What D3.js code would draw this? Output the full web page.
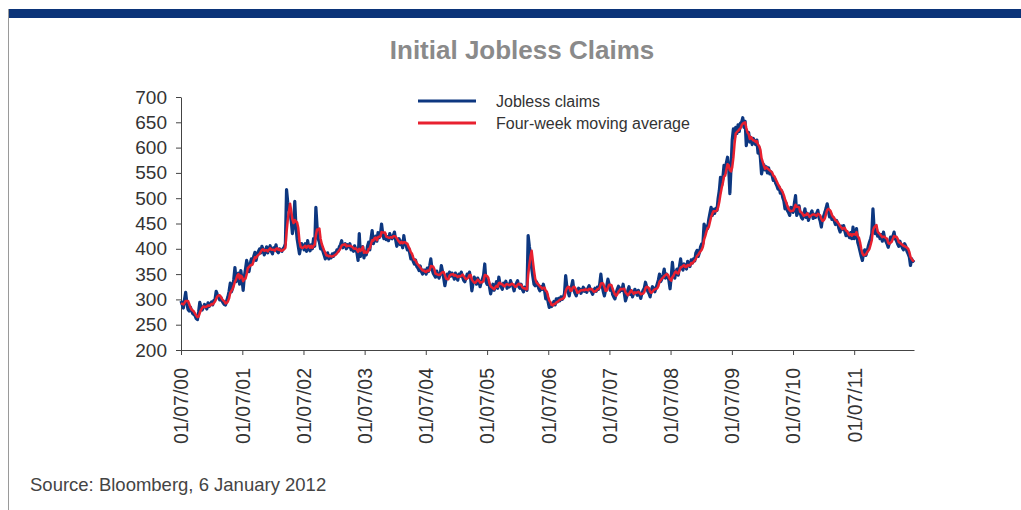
<!DOCTYPE html>
<html>
<head>
<meta charset="utf-8">
<script src="https://cdn.jsdelivr.net/npm/d3@7"></script>
<style>
  html, body { margin: 0; padding: 0; background: #fff; }
  svg { display: block; font-family: "Liberation Sans", Arial, sans-serif; }
</style>
</head>
<body>
<svg id="chart" width="1021" height="510"></svg>
<script>
// ---------- DATA (thousands, weekly, first week 01/07/00) ----------
const chartTitle = "Initial Jobless Claims";
const sourceText = "Source: Bloomberg, 6 January 2012";
const seriesNames = ["Jobless claims", "Four-week moving average"];
const firstWeek = "2000-01-07";
const yTicks = [200, 250, 300, 350, 400, 450, 500, 550, 600, 650, 700];
const xTickLabels = ["01/07/00","01/07/01","01/07/02","01/07/03","01/07/04","01/07/05","01/07/06","01/07/07","01/07/08","01/07/09","01/07/10","01/07/11"];

const claims2000 = [297,290,283,300,314,292,280,277,285,278,272,270,268,262,260,275,294,285,279,284,290,288,281,293,286,291,295,289,298,300,316,310,305,299,304,297,293,290,289,298,305,316,332,315,322,340,363,335,348,352,330,357];
const claims2001 = [340,318,345,360,377,365,355,370,380,372,385,393,377,388,395,400,392,405,398,388,396,404,392,400,406,395,390,402,398,408,395,392,400,397,395,400,403,410,517,492,478,470,455,430,448,494,445,420,405,390,402,410];
const claims2002 = [404,398,410,395,416,402,396,408,400,420,405,482,445,420,413,400,405,395,388,380,386,392,380,386,382,390,385,392,390,398,395,404,408,416,402,406,410,400,408,404,410,398,402,395,406,400,392,377,430,385,398,404];
const claims2003 = [382,395,388,405,413,398,420,436,410,418,425,415,432,422,428,449,430,420,429,418,424,416,430,422,420,426,433,418,405,412,420,408,415,402,426,410,406,398,402,392,380,386,375,370,378,365,362,357,366,355,350,358];
const claims2004 = [358,350,362,355,366,380,360,352,348,344,356,348,342,350,367,355,342,327,340,350,344,354,346,352,348,340,352,344,338,350,346,354,345,338,335,342,350,346,354,340,317,332,344,338,330,342,336,325,334,340,348,370,335];
const claims2005 = [330,338,325,311,322,330,318,326,335,322,344,330,325,320,332,328,336,322,330,325,337,330,326,317,328,332,337,325,322,330,320,315,324,322,318,426,405,390,362,345,330,327,335,330,322,317,325,320,330,318,301,310];
const claims2006 = [295,284,290,286,291,296,289,301,295,302,297,305,300,304,312,347,325,315,307,320,326,337,318,312,307,316,322,320,312,318,324,316,320,314,322,327,318,315,310,318,322,316,324,320,330,350,328,316,307,318,326,340];
const claims2007 = [330,318,325,310,305,301,312,320,326,315,322,318,330,312,297,305,318,325,310,317,305,312,320,315,308,318,310,302,312,318,322,334,325,316,312,305,318,325,322,315,322,330,338,350,335,340,348,360,342,350,345,338];
const claims2008 = [321,345,373,350,342,355,360,348,365,380,362,358,370,366,360,375,368,365,378,372,380,376,392,397,385,392,404,410,410,449,430,445,440,458,470,482,466,478,470,480,476,500,515,541,525,540,565,550,570,581,560,509];
const claims2009 = [560,615,637,620,640,628,645,632,648,650,659,640,652,604,623,630,611,620,606,618,612,606,615,589,600,580,548,560,566,556,562,550,560,548,552,545,535,540,530,525,518,522,510,515,502,495,479,490,476,472,466,482];
const claims2010 = [480,472,490,505,466,472,485,470,462,459,468,479,462,470,456,465,470,475,460,468,462,470,476,462,455,443,460,465,472,480,489,475,463,470,458,462,455,448,456,450,440,433,445,438,446,435,426,432,428,422,432,420,443];
const claims2011 = [420,428,440,413,405,395,385,377,392,398,387,395,405,413,420,430,479,440,430,439,425,430,420,428,415,433,420,415,410,403,412,423,418,425,433,420,416,410,405,415,408,402,398,410,405,395,390,384,367,380,375,378];

const avg2000 = [292,291,290,293,297,297,297,291,284,280,278,276,272,268,265,266,273,279,283,286,285,285,286,288,287,288,291,290,293,296,301,306,308,308,305,301,298,296,292,293,296,302,313,317,321,327,335,340,347,350,341,347];
const avg2001 = [345,336,340,341,350,362,364,367,368,369,377,383,382,386,388,390,394,398,399,396,397,397,395,398,401,398,398,398,396,400,401,398,399,396,396,398,399,402,433,456,474,489,474,458,451,457,454,452,441,415,404,402];
const avg2002 = [402,404,406,402,405,406,402,406,402,406,408,427,438,438,440,420,410,403,397,392,387,387,385,386,385,385,386,387,389,391,394,397,401,406,408,408,409,405,406,406,406,405,404,401,400,401,398,394,400,396,398,404];
const avg2003 = [392,395,392,393,400,401,409,417,416,421,422,417,423,424,424,433,432,432,432,424,423,422,422,423,422,425,425,424,421,417,414,411,414,411,413,413,411,410,404,400,393,390,383,378,377,372,369,366,363,360,357,357];
const avg2004 = [355,354,357,356,358,366,365,365,360,351,350,349,348,349,352,354,354,348,341,340,340,347,349,349,350,347,348,346,344,346,345,347,349,346,343,340,341,343,348,348,339,336,333,333,336,339,337,333,334,334,337,348,348];
const avg2005 = [346,343,332,326,324,322,320,324,327,325,332,333,330,330,327,326,329,330,329,328,329,331,330,328,325,326,329,331,329,329,324,322,322,320,320,348,368,385,396,376,357,341,334,331,329,326,324,321,323,323,317,315];
const avg2006 = [306,298,295,289,288,291,291,294,295,297,299,300,301,302,305,316,322,325,324,317,317,323,325,323,319,313,314,316,318,318,319,318,320,319,318,321,320,321,318,315,316,317,320,321,323,331,332,331,325,317,317,323];
const avg2007 = [329,329,328,321,315,310,307,310,315,318,321,320,321,321,314,311,308,311,315,318,314,311,314,313,314,315,313,310,311,311,314,322,325,324,322,315,313,315,318,320,321,322,326,335,338,341,343,346,348,350,349,344];
const avg2008 = [339,337,344,347,353,355,352,351,357,363,364,366,368,364,364,368,367,367,372,371,374,377,380,386,388,392,395,398,404,418,425,434,441,443,453,463,469,474,474,474,476,482,493,508,520,530,543,545,556,567,565,555];
const avg2009 = [553,561,580,608,628,631,633,636,638,644,647,649,650,639,630,627,617,621,617,614,614,611,613,606,603,596,579,572,564,558,561,559,557,555,553,551,545,543,538,533,528,524,519,516,512,506,498,492,485,479,476,474];
const avg2010 = [475,475,481,487,483,483,482,473,472,469,465,467,467,470,467,463,465,467,468,468,466,465,469,468,466,459,455,456,460,469,477,479,477,474,467,463,461,456,455,452,449,445,442,439,441,441,436,435,430,427,429,426,429];
const avg2011 = [429,428,433,425,422,413,400,391,387,388,389,393,396,400,408,417,436,442,445,447,434,431,429,426,423,424,424,421,420,412,410,412,414,420,425,424,424,420,413,412,410,408,406,405,404,402,400,394,384,380,377,375];

const claims = [].concat(claims2000, claims2001, claims2002, claims2003, claims2004, claims2005,
                         claims2006, claims2007, claims2008, claims2009, claims2010, claims2011);
const movingAvg = [].concat(avg2000, avg2001, avg2002, avg2003, avg2004, avg2005,
                            avg2006, avg2007, avg2008, avg2009, avg2010, avg2011);

// ---------- CHART ----------
const parse = d3.timeParse("%Y-%m-%d");
const fmt = d3.timeFormat("%m/%d/%y");
const t0 = parse(firstWeek);
const weeks = claims.map((_, i) => d3.timeDay.offset(t0, 7 * i));
const xTickDates = xTickLabels.map(s => d3.timeParse("%m/%d/%y")(s));

const svg = d3.select("#chart");
const W = 1021, H = 510;
const BLUE = "#0d3780", RED = "#e8202f";

// frame decorations
svg.append("rect").attr("x", 8).attr("y", 9).attr("width", W - 8).attr("height", 9).attr("fill", "#0b3479");
svg.append("line").attr("x1", 8.5).attr("x2", 8.5).attr("y1", 9).attr("y2", H)
   .attr("stroke", "#9a9a9a").attr("stroke-width", 1);

const x = d3.scaleTime().domain([t0, weeks[weeks.length - 1]]).range([181, 914]);
const y = d3.scaleLinear().domain([200, 700]).range([350, 97]);

// title
svg.append("text").attr("x", 522).attr("y", 59).attr("text-anchor", "middle")
   .attr("font-size", 26).attr("font-weight", "bold").attr("fill", "#8a8a8a").text(chartTitle);

// y axis
const yAxis = svg.append("g").attr("transform", "translate(181,0)")
  .call(d3.axisLeft(y).tickValues(yTicks).tickSize(5).tickSizeOuter(0).tickPadding(9));
yAxis.selectAll("text").attr("font-size", 19).attr("fill", "#333").attr("font-family", "Liberation Sans, Arial, sans-serif");
yAxis.selectAll("path, line").attr("stroke", "#444");

// x axis
const xAxis = svg.append("g").attr("transform", "translate(0,350)")
  .call(d3.axisBottom(x).tickValues(xTickDates).tickFormat(fmt).tickSize(5).tickSizeOuter(0));
xAxis.selectAll("path, line").attr("stroke", "#444");
xAxis.selectAll("text")
  .attr("font-size", 19.5).attr("fill", "#333").attr("font-family", "Liberation Sans, Arial, sans-serif")
  .attr("transform", "rotate(-90)").attr("text-anchor", "end")
  .attr("x", -18).attr("y", 0).attr("dy", "0.35em");

// lines
const line = d3.line().x((d, i) => x(weeks[i])).y(d => y(d));
svg.append("path").datum(claims).attr("d", line).attr("fill", "none")
   .attr("stroke", BLUE).attr("stroke-width", 3.2).attr("stroke-linejoin", "round");
svg.append("path").datum(movingAvg).attr("d", line).attr("fill", "none")
   .attr("stroke", RED).attr("stroke-width", 2.5).attr("stroke-linejoin", "round");

// legend
const legend = svg.append("g");
[[BLUE, 101, seriesNames[0]], [RED, 123, seriesNames[1]]].forEach(([c, ly, name]) => {
  legend.append("line").attr("x1", 418).attr("x2", 476).attr("y1", ly).attr("y2", ly)
        .attr("stroke", c).attr("stroke-width", 3);
  legend.append("text").attr("x", 496).attr("y", ly + 6).attr("font-size", 16)
        .attr("fill", "#333").text(name);
});

// source
svg.append("text").attr("x", 30).attr("y", 491).attr("font-size", 18.5).attr("fill", "#444").text(sourceText);
</script>
</body>
</html>
